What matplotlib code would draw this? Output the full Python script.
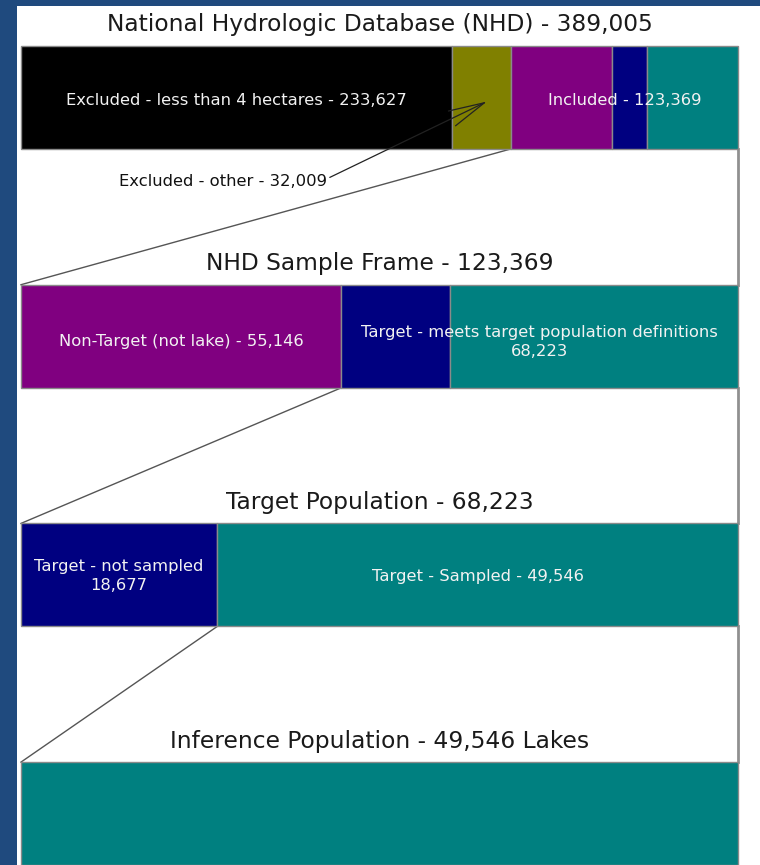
import matplotlib
matplotlib.use("Agg")
import matplotlib.pyplot as plt

plt.rcParams['font.family'] = ['DejaVu Sans']

# ---- data ----
stage_titles = [
    "National Hydrologic Database (NHD) - 389,005",
    "NHD Sample Frame - 123,369",
    "Target Population - 68,223",
    "Inference Population - 49,546 Lakes",
]
stage_totals = [389005, 123369, 68223, 49546]

less_than_4ha = 233627
excluded_other = 32009
non_target = 55146
not_sampled = 18677
sampled = 49546

stage_segments = [
    [less_than_4ha, excluded_other, non_target, not_sampled, sampled],
    [non_target, not_sampled, sampled],
    [not_sampled, sampled],
    [sampled],
]
stage_colors = [
    ["#000000", "#808000", "#800080", "#000080", "#008080"],
    ["#800080", "#000080", "#008080"],
    ["#000080", "#008080"],
    ["#008080"],
]
# number of leading segments dropped before the next stage
dropped_counts = [2, 1, 1, 0]

label_less = "Excluded - less than 4 hectares - 233,627"
label_other = "Excluded - other - 32,009"
label_included = "Included - 123,369"
label_nontarget = "Non-Target (not lake) - 55,146"
label_target = "Target - meets target population definitions\n68,223"
label_notsampled = "Target - not sampled\n18,677"
label_sampled = "Target - Sampled - 49,546"

# ---- layout ----
W, H = 760, 865
fig = plt.figure(figsize=(W / 100, H / 100), dpi=100)
fig.patch.set_facecolor("#1f4a7e")

bg = fig.add_axes([17 / W, 0, 1 - 17 / W, (H - 6) / H])
bg.set_facecolor("white")
bg.set_xticks([])
bg.set_yticks([])
for s in bg.spines.values():
    s.set_visible(False)

ax = fig.add_axes([0, 0, 1, 1])
ax.set_facecolor("none")
x0, x1 = 21, 738
span = x1 - x0
ax.set_xlim(-x0 / span, (W - x0) / span)
ax.set_ylim(H, 0)
ax.axis("off")

row_top0 = 46
row_step = 238.7
bar_h = 103

tops = [row_top0 + i * row_step for i in range(4)]
centers = [t + bar_h / 2 for t in tops]

fracs_all = []
for i, (segs, cols, tot) in enumerate(zip(stage_segments, stage_colors, stage_totals)):
    fr = [v / tot for v in segs]
    lefts = [sum(fr[:k]) for k in range(len(fr))]
    fracs_all.append((fr, lefts))
    ax.barh(centers[i], fr, left=lefts, height=bar_h, color=cols,
            edgecolor="#8a8a8a", linewidth=1.0, zorder=3)
    ax.text(0.5, tops[i] - 21, stage_titles[i], ha="center", va="center",
            fontsize=16.8, color="#1a1a1a", zorder=5)

# funnel connectors
line_col = "#555555"
for i in range(3):
    fr, lefts = fracs_all[i]
    kx = lefts[dropped_counts[i]]
    bot = tops[i] + bar_h
    ax.plot([kx, 0], [bot, tops[i + 1]], color=line_col, lw=1.0, zorder=2)
    ax.plot([1, 1], [bot, tops[i + 1]], color="#909090", lw=2.0, zorder=2)
ax.plot([1, 1], [tops[3] + bar_h, H], color="#909090", lw=2.0, zorder=2)

lab = dict(ha="center", va="center", fontsize=11.8, color="#f2f2f2", zorder=6,
           linespacing=1.3)

# stage 1 labels
fr, lefts = fracs_all[0]
ax.text(lefts[0] + fr[0] / 2, centers[0] + 3, label_less, **lab)
inc_left = lefts[2]
ax.text((inc_left + 1) / 2, centers[0] + 3, label_included, **lab)
tip_x = lefts[1] + fr[1] * 0.6
ax.annotate(label_other, xy=(tip_x, centers[0] + 4),
            xytext=((223 - x0) / span, 181), textcoords="data",
            ha="center", va="center", fontsize=11.8, color="#111111",
            arrowprops=dict(arrowstyle="->,head_length=2.2,head_width=0.5",
                            color="#222222", lw=0.9, relpos=(1.0, 0.65),
                            shrinkA=0, shrinkB=0),
            zorder=4)

# stage 2 labels
fr, lefts = fracs_all[1]
ax.text(fr[0] / 2, centers[1] + 5, label_nontarget, **lab)
ax.text((lefts[1] + 1) / 2, centers[1] + 6, label_target, **lab)

# stage 3 labels
fr, lefts = fracs_all[2]
ax.text(fr[0] / 2, centers[2] + 1, label_notsampled, **lab)
ax.text((lefts[1] + 1) / 2, centers[2] + 2, label_sampled, **lab)

fig.savefig("out.png", dpi=100, facecolor=fig.get_facecolor())
